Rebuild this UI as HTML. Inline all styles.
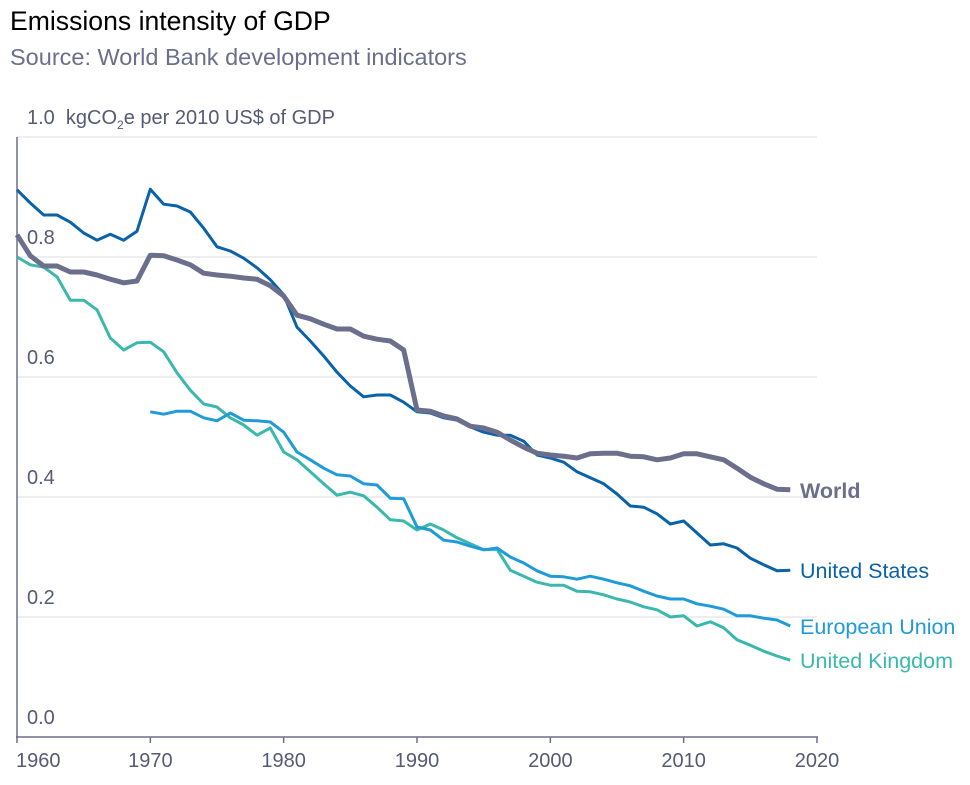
<!DOCTYPE html>
<html><head><meta charset="utf-8"><style>
body{margin:0;background:#fff;font-family:"Liberation Sans",sans-serif}
</style></head><body>
<svg width="970" height="780" xmlns="http://www.w3.org/2000/svg" font-family="Liberation Sans, sans-serif">
<text x="10" y="30" font-size="26.6" fill="#000">Emissions intensity of GDP</text>
<text x="10" y="65" font-size="23.5" fill="#6b6f8c">Source: World Bank development indicators</text>
<text x="27" y="124" font-size="20" fill="#555a75" xml:space="preserve">1.0  kgCO<tspan font-size="12" dy="5">2</tspan><tspan dy="-5">e per 2010 US$ of GDP</tspan></text>
<g id="grid"></g><g id="lines"></g><g id="labels"></g>
</svg>
<script>
const years = [];for(let y=1960;y<=2018;y++)years.push(y);
const usValues=[.912,.89,.87,.87,.858,.84,.828,.838,.828,.843,.913,.888,.885,.875,.848,.817,.81,.798,.782,.762,.737,.683,.66,.635,.608,.585,.567,.57,.57,.558,.542,.54,.532,.528,.517,.508,.503,.503,.493,.47,.465,.458,.442,.432,.422,.405,.385,.383,.372,.355,.36,.34,.32,.322,.315,.298,.287,.277,.278];
const worldValues=[.837,.802,.785,.785,.775,.775,.77,.763,.757,.76,.803,.802,.795,.787,.773,.77,.768,.765,.763,.752,.735,.703,.697,.688,.68,.68,.668,.663,.66,.645,.545,.543,.535,.53,.518,.515,.508,.495,.483,.473,.47,.468,.465,.472,.473,.473,.468,.467,.462,.465,.472,.472,.467,.462,.448,.433,.422,.413,.412];
const ukValues=[.8,.787,.783,.767,.728,.728,.712,.665,.645,.657,.658,.642,.607,.578,.555,.55,.532,.52,.503,.515,.475,.462,.442,.422,.403,.408,.402,.383,.362,.36,.345,.355,.345,.332,.322,.312,.313,.278,.268,.258,.253,.253,.243,.242,.237,.23,.225,.217,.212,.2,.202,.185,.192,.182,.162,.153,.143,.135,.128];
const euStart=1970;
const euValues=[.542,.538,.543,.543,.532,.527,.54,.528,.527,.525,.508,.475,.462,.448,.437,.435,.422,.42,.398,.397,.35,.345,.328,.325,.318,.312,.315,.3,.29,.277,.268,.267,.263,.268,.263,.257,.252,.243,.235,.23,.23,.222,.218,.213,.202,.202,.198,.195,.185];
const yTicks=[0,0.2,0.4,0.6,0.8];
const xTicks=[1960,1970,1980,1990,2000,2010,2020];
const X=y=>17+(y-1960)*800/60, Y=v=>737-v*600;
const NS="http://www.w3.org/2000/svg";
function mk(tag,parent,attrs){const e=document.createElementNS(NS,tag);for(const k in attrs)e.setAttribute(k,attrs[k]);document.getElementById(parent).appendChild(e);return e;}
[0.2,0.4,0.6,0.8,1.0].forEach(v=>{const l=mk('line','grid',{x1:17,x2:817,y1:Y(v),y2:Y(v),stroke:'#e8e8ea','stroke-width':1.5});

});
yTicks.forEach(v=>{const t=mk('text','grid',{x:27,y:Y(v)-13,'font-size':20,fill:'#555a75'});t.textContent=v.toFixed(1);

});
const ax=mk('line','grid',{x1:17,x2:17,y1:137,y2:738,stroke:'#6b6f8c','stroke-width':1.5});


const xa=mk('line','grid',{x1:16,x2:818,y1:737,y2:737,stroke:'#6b6f8c','stroke-width':1.5});


xTicks.forEach((y,i)=>{const tk=mk('line','grid',{x1:X(y),x2:X(y),y1:737,y2:743,stroke:'#6b6f8c','stroke-width':1.5});


const t=mk('text','grid',{x:i===0?X(y)-1:X(y),y:767,'font-size':20,fill:'#555a75','text-anchor':i===0?'start':'middle'});t.textContent=y;

});
function series(vals,start,color,w,name,label,bold){
 const d=vals.map((v,i)=>(i?'L':'M')+X(start+i).toFixed(1)+' '+Y(v).toFixed(1)).join(' ');
 const p=mk('path','lines',{d:d,fill:'none',stroke:color,'stroke-width':w,'stroke-linejoin':'round'});
 
 
 const t=mk('text','labels',{x:800,y:Y(vals[vals.length-1])+8,'font-size':21.5,fill:color,'font-weight':bold?'bold':'normal'});t.textContent=label;
 
 
}
series(ukValues,1960,'#3bb8ad',3,'uk-line','United Kingdom');
series(euValues,euStart,'#1f9bd8',3,'eu-line','European Union');
series(usValues,1960,'#0a62a9',3,'us-line','United States');
series(worldValues,1960,'#6b6f8c',5,'world-line','World',true);
</script>
</body></html>
